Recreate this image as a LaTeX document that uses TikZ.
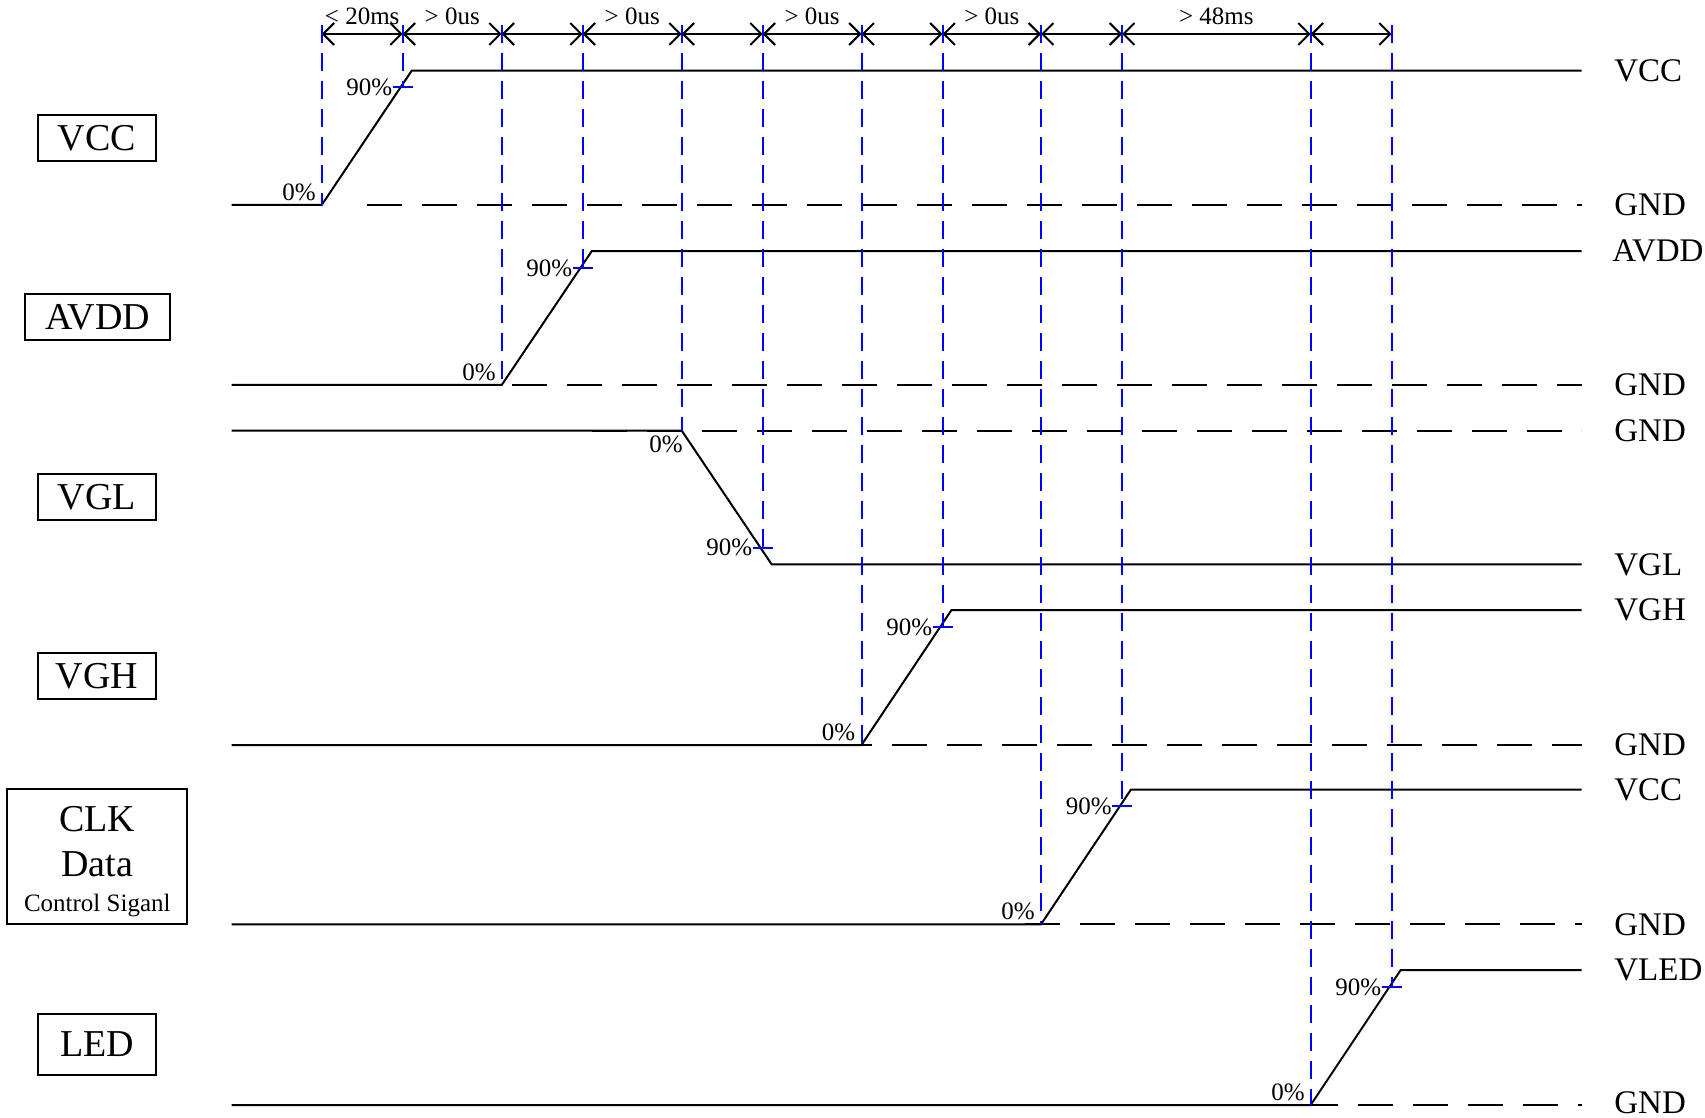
\documentclass[tikz,border=0pt]{standalone}
\usepackage{fontspec}
\setmainfont{Liberation Serif}
\usetikzlibrary{arrows.meta}
\begin{document}
\begin{tikzpicture}[x=0.5pt,y=-0.5pt,
  wave/.style={line width=1pt},
  gnd/.style={line width=1pt, dash pattern=on 17.5pt off 10pt},
  guide/.style={blue, line width=1pt, dash pattern=on 9pt off 5pt},
  pcttick/.style={blue, line width=1pt},
  dim/.style={line width=1pt, {Straight Barb[length=5.5pt,width=11pt]}-{Straight Barb[length=5.5pt,width=11pt]}},
  sigbox/.style={draw, line width=1pt, inner sep=0pt, minimum width=59pt, minimum height=23pt, font=\fontsize{19}{22}\selectfont},
  rlab/.style={anchor=west, inner sep=0pt, font=\fontsize{16.5}{19}\selectfont},
  pct/.style={inner sep=0pt, font=\fontsize{12.5}{14}\selectfont},
  toplab/.style={anchor=base, inner sep=0pt, font=\fontsize{12.5}{14}\selectfont}
]
\useasboundingbox (0,0) rectangle (1705,1118);

% ---------- signal boxes ----------
\node[sigbox] (bvcc) at (97,138) {VCC};
\node[sigbox, minimum width=72.5pt] (bavdd) at (97.5,317.5) {AVDD};
\node[sigbox] (bvgl) at (97,497) {VGL};
\node[sigbox] (bvgh) at (97,676) {VGH};
\node[draw, line width=1pt, inner sep=0pt, minimum width=90pt, minimum height=67.5pt] (bclk) at (97.3,856.8) {};
\node[anchor=base, inner sep=0pt, font=\fontsize{19}{22}\selectfont] (tclk) at (97.3,831.7) {CLK};
\node[anchor=base, inner sep=0pt, font=\fontsize{19}{22}\selectfont] (tdata) at (97.3,876.7) {Data};
\node[anchor=base, inner sep=0pt, font=\fontsize{12.5}{14}\selectfont] (tctrl) at (97.3,911.7) {Control Siganl};
\node[sigbox, minimum height=30.5pt] (bled) at (97,1044.5) {LED};

% ---------- waveforms ----------
% VCC
\draw[gnd] (366.7,205) -- (1581.7,205);
\draw[wave] (231.7,205) -- (321.7,205) -- (411.7,70.7) -- (1581.7,70.7);
% AVDD
\draw[gnd] (511.7,385) -- (1581.7,385);
\draw[wave] (231.7,385) -- (501.7,385) -- (591.7,251.2) -- (1581.7,251.2);
% VGL
\draw[gnd] (591.7,430.6) -- (1581.7,430.6);
\draw[wave] (231.7,430.6) -- (681.7,430.6) -- (771.7,564.4) -- (1581.7,564.4);
% VGH
\draw[gnd] (836.7,745) -- (1581.7,745);
\draw[wave] (231.7,745) -- (861.5,745) -- (951.5,610) -- (1581.7,610);
% CLK / Data
\draw[gnd] (1025,924.3) -- (1581.7,924.3);
\draw[wave] (231.7,924.3) -- (1041,924.3) -- (1131,789.5) -- (1581.7,789.5);
% LED
\draw[gnd] (1303.3,1105) -- (1581.7,1105);
\draw[wave] (231.7,1105) -- (1310.7,1105) -- (1400.7,970) -- (1581.7,970);

% ---------- right labels ----------
\node[rlab] (rvcc) at (1614,70.7) {VCC};
\node[rlab] (rg1) at (1614,205) {GND};
\node[rlab] (ravdd) at (1612,251.2) {AVDD};
\node[rlab] (rg2) at (1614,385) {GND};
\node[rlab] (rg3) at (1614,430.6) {GND};
\node[rlab] (rvgl) at (1614,564.4) {VGL};
\node[rlab] (rvgh) at (1614,610) {VGH};
\node[rlab] (rg4) at (1614,745) {GND};
\node[rlab] (rvcc2) at (1614,789.5) {VCC};
\node[rlab] (rg5) at (1614,924.3) {GND};
\node[rlab] (rvled) at (1614,970) {VLED};
\node[rlab] (rg6) at (1614,1102.5) {GND};

% ---------- timing points ----------
\coordinate (t1) at (321.7,34);  \coordinate (p1) at (321.7,205);
\coordinate (t2) at (402.7,34);  \coordinate (p2) at (402.7,87.5);
\coordinate (t3) at (501.7,34);  \coordinate (p3) at (501.7,385);
\coordinate (t4) at (582.7,34);  \coordinate (p4) at (582.7,267.9);
\coordinate (t5) at (681.7,34);  \coordinate (p5) at (681.7,430.6);
\coordinate (t6) at (762.7,34);  \coordinate (p6) at (762.7,547.7);
\coordinate (t7) at (861.5,34);  \coordinate (p7) at (861.5,745);
\coordinate (t8) at (942.5,34);  \coordinate (p8) at (942.5,626.9);
\coordinate (t9) at (1041,34);   \coordinate (p9) at (1041,924.3);
\coordinate (t10) at (1122,34);  \coordinate (p10) at (1122,806.3);
\coordinate (t11) at (1310.7,34); \coordinate (p11) at (1310.7,1105);
\coordinate (t12) at (1391.7,34); \coordinate (p12) at (1391.7,986.9);

% ---------- dimension line ----------
\foreach \a/\b in {1/2,2/3,3/4,4/5,5/6,6/7,7/8,8/9,9/10,10/11,11/12}
  \draw[dim] (t\a) -- (t\b);

\node[toplab] (l1) at (362.2,25) {< 20ms};
\node[toplab] (l2) at (452.2,25) {> 0us};
\node[toplab] (l3) at (632.2,25) {> 0us};
\node[toplab] (l4) at (812.1,25) {> 0us};
\node[toplab] (l5) at (991.8,25) {> 0us};
\node[toplab] (l6) at (1216.4,25) {> 48ms};

% ---------- percent labels ----------
\node[pct, anchor=base east] (z1) at (316,200.5) {0\%};
\node[pct, anchor=base east] (z2) at (496,380.5) {0\%};
\node[pct, anchor=north east] (z3) at (683,435.6) {0\%};
\node[pct, anchor=base east] (z4) at (855.5,740.5) {0\%};
\node[pct, anchor=base east] (z5) at (1035,919.8) {0\%};
\node[pct, anchor=base east] (z6) at (1305,1100) {0\%};

\node[pct, anchor=east] (n1) at (392.7,87.5) {90\%};
\node[pct, anchor=east] (n2) at (572.7,267.9) {90\%};
\node[pct, anchor=east] (n3) at (752.7,547.7) {90\%};
\node[pct, anchor=east] (n4) at (932.5,626.9) {90\%};
\node[pct, anchor=east] (n5) at (1112,806.3) {90\%};
\node[pct, anchor=east] (n6) at (1381.7,986.9) {90\%};

% ---------- blue guides and ticks ----------
\foreach \i in {1,...,12}
  \draw[guide] ([yshift=4.5pt]t\i) -- (p\i);
\foreach \i in {2,4,6,8,10,12}
  \draw[pcttick] ([xshift=-5pt]p\i) -- ([xshift=5pt]p\i);

\end{tikzpicture}
\end{document}
